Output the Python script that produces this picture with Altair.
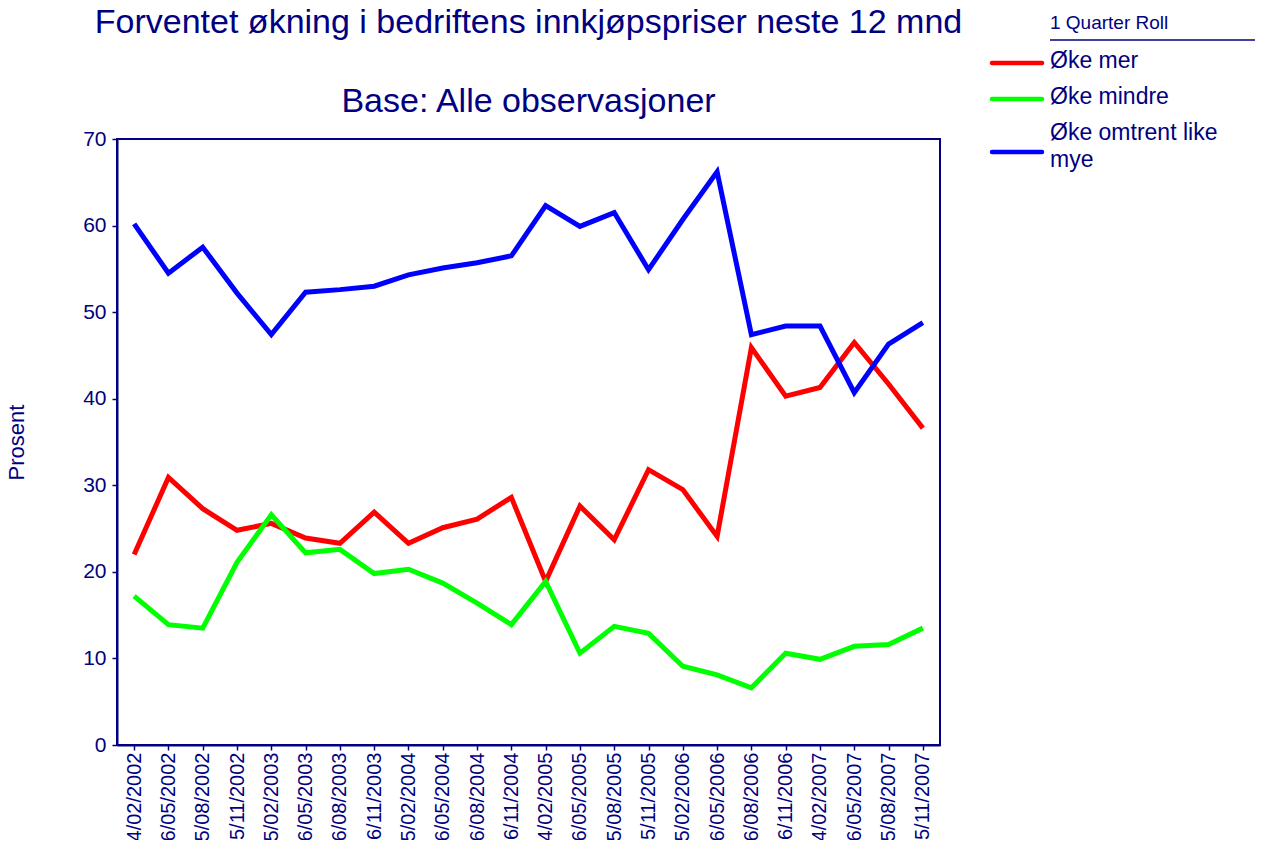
import altair as alt
import pandas as pd

dates = ["14/02/2002", "16/05/2002", "15/08/2002", "15/11/2002", "15/02/2003", "16/05/2003",
         "16/08/2003", "16/11/2003", "15/02/2004", "16/05/2004", "16/08/2004", "16/11/2004",
         "14/02/2005", "16/05/2005", "15/08/2005", "15/11/2005", "15/02/2006", "16/05/2006",
         "16/08/2006", "16/11/2006", "14/02/2007", "16/05/2007", "15/08/2007", "15/11/2007"]

oke_mer = [22.0, 30.9, 27.3, 24.8, 25.6, 23.9, 23.3, 26.9, 23.3, 25.1, 26.1, 28.6,
           18.9, 27.6, 23.7, 31.8, 29.5, 24.1, 45.9, 40.3, 41.3, 46.5, 41.7, 36.6]
oke_mindre = [17.2, 13.9, 13.5, 21.1, 26.6, 22.2, 22.6, 19.8, 20.3, 18.7, 16.4, 13.9,
              18.9, 10.6, 13.7, 12.9, 9.1, 8.1, 6.6, 10.6, 9.9, 11.4, 11.6, 13.5]
oke_like = [60.2, 54.5, 57.5, 52.2, 47.4, 52.3, 52.6, 53.0, 54.3, 55.1, 55.7, 56.5,
            62.3, 59.9, 61.5, 54.9, 60.7, 66.2, 47.4, 48.4, 48.4, 40.7, 46.3, 48.8]

series_names = ["Øke mer", "Øke mindre", "Øke omtrent like mye"]
series_colors = ["#FF0000", "#00FF00", "#0000FF"]

title_text = "Forventet økning i bedriftens innkjøpspriser neste 12 mnd"
subtitle_text = "Base: Alle observasjoner"
legend_title_text = "1 Quarter Roll"

rows = []
for name, vals in zip(series_names, [oke_mer, oke_mindre, oke_like]):
    for d, v in zip(dates, vals):
        rows.append({"Dato": d, "Serie": name, "Prosent": v})
df = pd.DataFrame(rows)

NAVY = "#000080"
FONT = "Liberation Sans"

lines = alt.Chart(df).mark_line(strokeWidth=5).encode(
    x=alt.X("Dato:O", sort=dates, title=None,
            scale=alt.Scale(padding=0.5),
            axis=alt.Axis(labelAngle=270, labelFontSize=20, labelColor=NAVY,
                          labelFont=FONT, tickColor=NAVY, tickSize=5, tickWidth=1.5,
                          domainColor=NAVY, domainWidth=2, labelPadding=2)),
    y=alt.Y("Prosent:Q", title="Prosent",
            scale=alt.Scale(domain=[0, 70], nice=False),
            axis=alt.Axis(values=[0, 10, 20, 30, 40, 50, 60, 70], grid=False,
                          labelFontSize=21, labelColor=NAVY, labelFont=FONT,
                          tickColor=NAVY, tickSize=5, tickWidth=1.5,
                          domainColor=NAVY, domainWidth=2, labelPadding=6,
                          titleFontSize=22, titleColor=NAVY, titleFont=FONT,
                          titleFontWeight="normal", titlePadding=54)),
    color=alt.Color("Serie:N", sort=series_names,
                    scale=alt.Scale(domain=series_names, range=series_colors),
                    legend=None),
)

def text_layer(txt, x, y, size, align="left", baseline="middle"):
    return alt.Chart(pd.DataFrame({"t": [txt]})).mark_text(
        align=align, baseline=baseline, fontSize=size, color=NAVY, font=FONT
    ).encode(x=alt.value(x), y=alt.value(y), text="t:N")

layers = [lines]
# titles
layers.append(text_layer(title_text, 411.5, -106, 34, align="center", baseline="alphabetic"))
layers.append(text_layer(subtitle_text, 411.5, -27, 34, align="center", baseline="alphabetic"))
# legend
layers.append(text_layer(legend_title_text, 933, -116, 19))
layers.append(alt.Chart(pd.DataFrame({"t": [0]})).mark_rule(color=NAVY, strokeWidth=1.5)
              .encode(x=alt.value(933), x2=alt.value(1146), y=alt.value(-99)))

sym_y = [-76, -40, 13]
label_lines = [["Øke mer"], ["Øke mindre"], ["Øke omtrent like", "mye"]]
label_y = [[-78], [-42], [-6, 21]]
for name, col, sy, lls, lys in zip(series_names, series_colors, sym_y, label_lines, label_y):
    layers.append(alt.Chart(pd.DataFrame({"t": [name]})).mark_rule(
        color=col, strokeWidth=4.5, strokeCap="round")
        .encode(x=alt.value(875), x2=alt.value(925), y=alt.value(sy)))
    for ll, ly in zip(lls, lys):
        layers.append(text_layer(ll, 933, ly, 23))

chart = alt.layer(*layers).properties(
    width=823, height=606,
    autosize=alt.AutoSizeParams(type="none"),
    padding={"left": 109, "top": 131, "right": 315, "bottom": 95},
).configure(background="white").configure_view(stroke=NAVY, strokeWidth=2)

chart.save("out.html", embed_options={"renderer": "svg", "actions": False})
